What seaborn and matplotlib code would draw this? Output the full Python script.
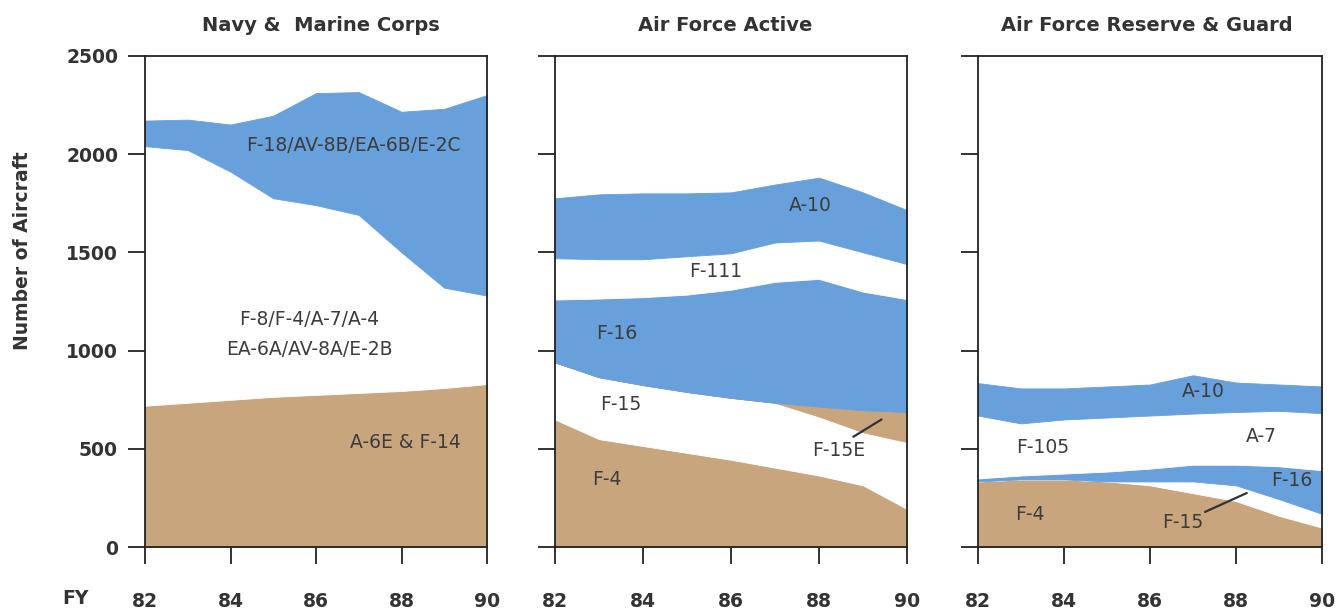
import numpy as np
import pandas as pd
import matplotlib
import matplotlib.pyplot as plt
import seaborn as sns

matplotlib.use('Agg')

years = [82, 83, 84, 85, 86, 87, 88, 89, 90]

# Navy & Marine Corps (stacked from the bottom)
navy_a6e_f14 = [720, 735, 750, 765, 775, 785, 795, 810, 830]
navy_f8_group = [1320, 1285, 1160, 1010, 965, 905, 705, 510, 450]
navy_f18_group = [130, 155, 240, 420, 570, 625, 715, 910, 1020]

# Air Force Active
afa_f4 = [650, 550, 515, 480, 445, 405, 365, 315, 195]
afa_f15 = [290, 315, 310, 310, 315, 330, 300, 270, 340]
afa_f15e = [0, 0, 0, 0, 0, 0, 50, 112, 153]
afa_f16 = [320, 400, 447, 495, 550, 615, 650, 603, 574]
afa_f111 = [210, 200, 193, 195, 185, 200, 195, 200, 178]
afa_a10 = [305, 330, 335, 320, 310, 295, 320, 305, 275]

# Air Force Reserve & Guard
arg_f4 = [335, 345, 345, 335, 315, 275, 235, 160, 100]
arg_f15 = [0, 0, 0, 0, 20, 60, 80, 85, 70]
arg_f16 = [15, 20, 30, 50, 65, 85, 105, 167, 222]
arg_f105_a7 = [320, 265, 275, 275, 270, 260, 268, 282, 290]
arg_a10 = [165, 178, 158, 158, 158, 195, 150, 134, 136]

panel_titles = ['Navy &  Marine Corps', 'Air Force Active', 'Air Force Reserve & Guard']
x_ticks = [82, 84, 86, 88, 90]
y_ticks = [0, 500, 1000, 1500, 2000, 2500]

BLUE = '#68a0dc'
TAN = '#c9a57e'
WHITE = '#ffffff'
INK = '#333333'
LABEL = '#3c3c3c'

sns.set_style('ticks')
plt.rcParams['font.family'] = ['DejaVu Sans']

panels = [
    (pd.DataFrame({'year': years, 'A-6E & F-14': navy_a6e_f14,
                   'F-8/F-4/A-7/A-4 EA-6A/AV-8A/E-2B': navy_f8_group,
                   'F-18/AV-8B/EA-6B/E-2C': navy_f18_group}),
     [TAN, WHITE, BLUE]),
    (pd.DataFrame({'year': years, 'F-4': afa_f4, 'F-15': afa_f15, 'F-15E': afa_f15e,
                   'F-16': afa_f16, 'F-111': afa_f111, 'A-10': afa_a10}),
     [TAN, WHITE, TAN, BLUE, WHITE, BLUE]),
    (pd.DataFrame({'year': years, 'F-4': arg_f4, 'F-15': arg_f15, 'F-16': arg_f16,
                   'F-105 / A-7': arg_f105_a7, 'A-10': arg_a10}),
     [TAN, WHITE, BLUE, WHITE, BLUE]),
]

fig = plt.figure(figsize=(13.4, 6.11), dpi=100)
boxes = [(145, 342), (555, 352), (978, 344)]
title_x = [0.515, 0.483, 0.491]
axes = []
for left, width in boxes:
    axes.append(fig.add_axes([left / 1340, 1 - 547.3 / 611, width / 1340, 491.6 / 611]))

for ax, (df, colors), title, tx in zip(axes, panels, panel_titles, title_x):
    base = np.zeros(len(df))
    for col, c in zip(df.columns[1:], colors):
        top = base + df[col].to_numpy()
        ax.fill_between(df['year'], base, top, color=c, lw=0.6, edgecolor=c)
        base = top
    ax.set_xlim(82, 90)
    ax.set_ylim(0, 2500)
    ax.set_xticks(x_ticks)
    ax.set_yticks(y_ticks)
    ax.tick_params(direction='out', length=12, width=1.3, color='#222222',
                   labelsize=13.5, labelcolor=INK)
    ax.tick_params(axis='x', pad=20)
    ax.tick_params(axis='y', pad=7.4)
    for lab in ax.get_xticklabels() + ax.get_yticklabels():
        lab.set_fontweight('bold')
    for sp in ax.spines.values():
        sp.set_visible(True)
        sp.set_linewidth(1.3)
        sp.set_color('#222222')
    ax.set_title(title, fontsize=14, fontweight='bold', color=INK, pad=18, x=tx)
    ax.set_facecolor('white')

for ax in axes[1:]:
    ax.set_yticklabels([])

fig.text(23 / 1340, 1 - 251 / 611, 'Number of Aircraft', fontsize=13.5, fontweight='bold',
         color=INK, rotation=90, ha='center', va='center')
fig.text(75 / 1340, 1 - 599 / 611, 'FY', fontsize=13.5, fontweight='bold', color=INK,
         ha='center', va='center')

lab_kw = dict(fontsize=13.5, color=LABEL, ha='center', va='center')
a1, a2, a3 = axes
a1.text(86.88, 2043, 'F-18/AV-8B/EA-6B/E-2C', **lab_kw)
a1.text(85.85, 1160, 'F-8/F-4/A-7/A-4', **lab_kw)
a1.text(85.85, 1005, 'EA-6A/AV-8A/E-2B', **lab_kw)
a1.text(88.1, 535, 'A-6E & F-14', **lab_kw)

a2.text(87.8, 1740, 'A-10', **lab_kw)
a2.text(85.65, 1405, 'F-111', **lab_kw)
a2.text(83.4, 1085, 'F-16', **lab_kw)
a2.text(83.5, 724, 'F-15', **lab_kw)
a2.text(88.45, 490, 'F-15E', **lab_kw)
a2.plot([88.78, 89.42], [562, 650], color='#333333', lw=1.6)
a2.text(83.17, 345, 'F-4', **lab_kw)

a3.text(87.25, 790, 'A-10', **lab_kw)
a3.text(83.5, 510, 'F-105', **lab_kw)
a3.text(88.6, 565, 'A-7', **lab_kw)
a3.text(89.3, 340, 'F-16', **lab_kw)
a3.text(86.75, 128, 'F-15', **lab_kw)
a3.plot([87.28, 88.25], [180, 276], color='#333333', lw=1.6)
a3.text(83.2, 165, 'F-4', **lab_kw)

fig.savefig('out.png', dpi=100, facecolor='white')
plt.close(fig)
